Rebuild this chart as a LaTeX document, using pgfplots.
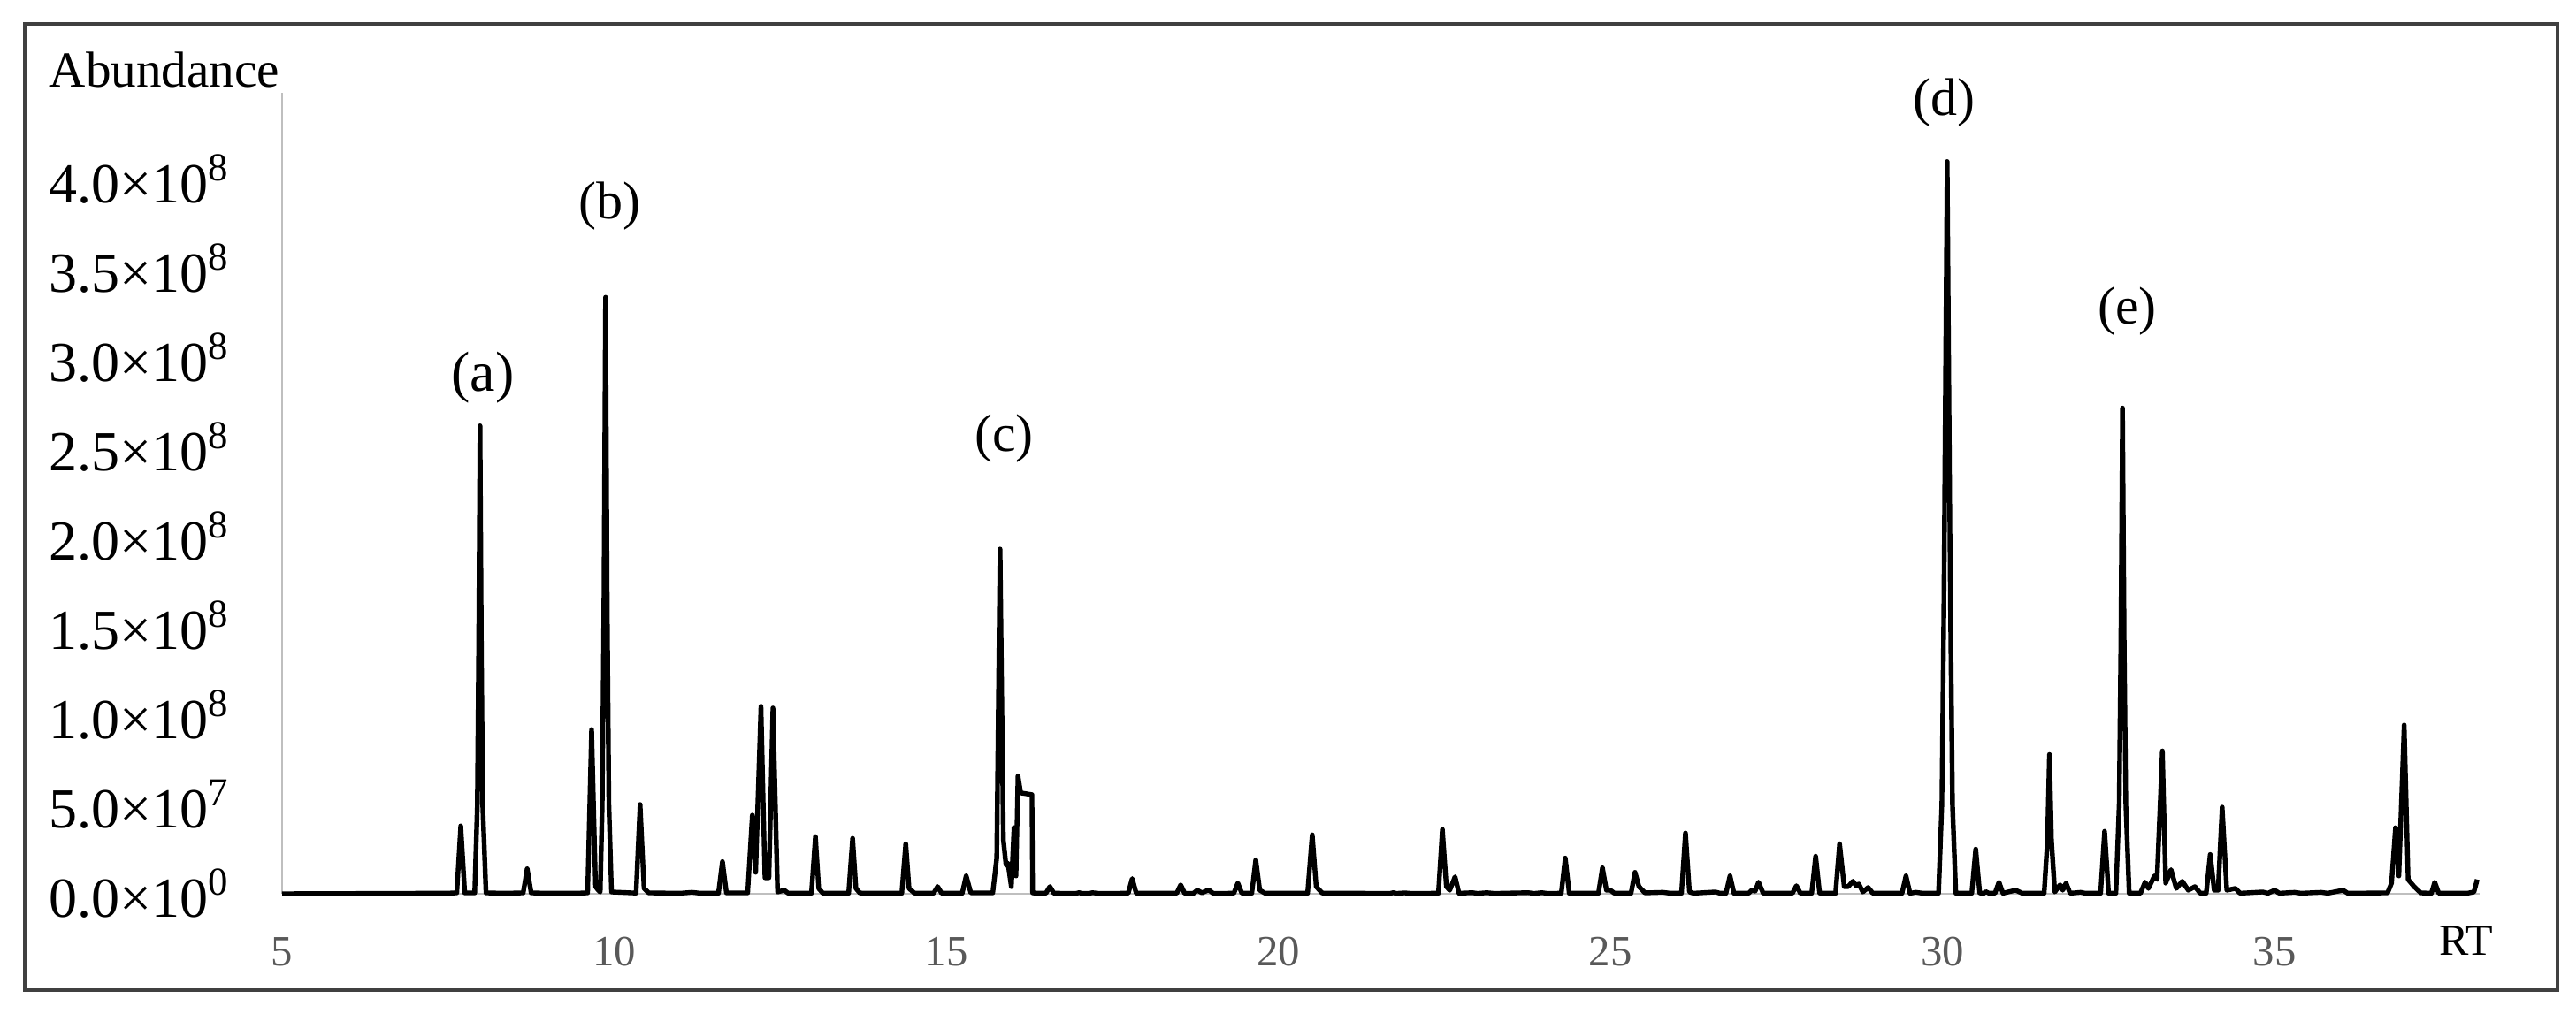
\documentclass[border=0pt]{standalone}
\usepackage{pgfplots}
\pgfplotsset{compat=1.18}
\usepackage{fontspec}
\setmainfont{Liberation Serif}
\definecolor{ticktext}{RGB}{89,89,89}
\definecolor{framegray}{RGB}{64,64,64}
\definecolor{axisgray}{RGB}{191,191,191}

\begin{document}
\begin{tikzpicture}
\path[use as bounding box] (0,0) rectangle (728.25pt,286.5pt);
\begin{axis}[
  at={(79.75pt,33.75pt)}, anchor=south west,
  scale only axis, width=621.5pt, height=226.5pt,
  xmin=5, xmax=38.1, ymin=0, ymax=4.485,
  axis lines=left,
  axis line style={axisgray, line width=0.5pt, -},
  major tick length=0pt,
  xtick={5,10,...,35},
  xticklabels={5,10,15,20,25,30,35},
  ytick={0,0.5,1,1.5,2,2.5,3,3.5,4},
  yticklabels={0.0×10\textsuperscript{0},5.0×10\textsuperscript{7},1.0×10\textsuperscript{8},1.5×10\textsuperscript{8},2.0×10\textsuperscript{8},2.5×10\textsuperscript{8},3.0×10\textsuperscript{8},3.5×10\textsuperscript{8},4.0×10\textsuperscript{8}},
  xticklabel style={anchor=center, yshift=-16.5pt, font=\fontsize{12.2}{14}\selectfont, text=ticktext},
  yticklabel style={anchor=east, inner sep=0pt, xshift=-14.5pt, font=\fontsize{16}{18}\selectfont},
  clip=false,
]
% total ion chromatogram, abundance in units of 1e8
\addplot[black, line width=1.35pt, line join=round, mark=none] coordinates {
(5.00,0) (6.5,0.002) (7.2,0.003) (7.55,0.004)
(7.63,0.005) (7.69,0.38) (7.75,0.005)
(7.90,0.005) (7.94,0.5) (7.96,1.4) (7.98,2.62) (8.00,1.4) (8.02,0.5) (8.07,0.005)
(8.35,0.003) (8.63,0.005) (8.69,0.14) (8.75,0.005)
(9.0,0.003) (9.40,0.003)
(9.60,0.005) (9.66,0.92) (9.72,0.04) (9.76,0.02)
(9.79,0.01) (9.82,0.5) (9.845,1.6) (9.87,3.34) (9.895,1.6) (9.92,0.5) (9.96,0.01)
(10.33,0.004) (10.39,0.50) (10.45,0.03) (10.52,0.005)
(11.0,0.003) (11.17,0.008) (11.3,0.003)
(11.57,0.003) (11.63,0.18) (11.69,0.005)
(12.01,0.005) (12.08,0.44) (12.13,0.12) (12.21,1.05) (12.27,0.09) (12.33,0.09) (12.39,1.04) (12.46,0.01) (12.56,0.02) (12.62,0.003)
(12.97,0.003) (13.03,0.32) (13.08,0.03) (13.14,0.004)
(13.53,0.003) (13.59,0.31) (13.64,0.03) (13.70,0.004)
(14.33,0.003) (14.39,0.28) (14.44,0.03) (14.52,0.004)
(14.81,0.003) (14.87,0.04) (14.93,0.003)
(15.24,0.003) (15.30,0.10) (15.37,0.005)
(15.70,0.005) (15.76,0.2) (15.81,1.93) (15.86,0.3) (15.90,0.16) (15.93,0.17) (15.98,0.04) (16.02,0.37) (16.05,0.10) (16.08,0.66) (16.12,0.565) (16.29,0.555) (16.30,0.005) (16.40,0.003)
(16.50,0.003) (16.56,0.04) (16.62,0.003)
(16.95,0.002) (17.0,0.006) (17.05,0.002) (17.15,0.002) (17.2,0.006) (17.3,0.002)
(17.74,0.003) (17.80,0.085) (17.86,0.003)
(18.47,0.003) (18.53,0.05) (18.59,0.002)
(18.72,0.002) (18.78,0.02) (18.85,0.005) (18.95,0.022) (19.02,0.002)
(19.33,0.003) (19.39,0.06) (19.45,0.003)
(19.60,0.003) (19.66,0.19) (19.72,0.02) (19.80,0.003)
(20.44,0.003) (20.51,0.33) (20.57,0.04) (20.66,0.004)
(21.68,0.002) (21.73,0.006) (21.78,0.002) (21.9,0.005) (22.0,0.002)
(22.41,0.003) (22.47,0.36) (22.53,0.04) (22.58,0.02) (22.66,0.095) (22.72,0.003)
(22.92,0.006) (23.0,0.002) (23.14,0.006) (23.25,0.002) (23.76,0.006) (23.85,0.002) (23.97,0.006) (24.05,0.002)
(24.26,0.003) (24.32,0.2) (24.38,0.003)
(24.82,0.003) (24.88,0.145) (24.94,0.02) (25.0,0.02) (25.06,0.003)
(25.31,0.003) (25.37,0.12) (25.43,0.04) (25.52,0.005)
(25.79,0.008) (25.9,0.003)
(26.07,0.003) (26.13,0.34) (26.19,0.01) (26.25,0.003)
(26.58,0.01) (26.65,0.003)
(26.74,0.003) (26.80,0.10) (26.86,0.003)
(27.08,0.003) (27.13,0.02) (27.18,0.015) (27.23,0.065) (27.30,0.003)
(27.74,0.003) (27.80,0.045) (27.86,0.003)
(28.03,0.003) (28.09,0.21) (28.15,0.004)
(28.39,0.003) (28.45,0.28) (28.52,0.04) (28.58,0.04) (28.65,0.07) (28.70,0.045) (28.74,0.055) (28.80,0.01) (28.88,0.035) (28.95,0.003)
(29.39,0.003) (29.45,0.10) (29.51,0.003)
(29.6,0.008) (29.7,0.003)
(29.94,0.003) (29.99,0.5) (30.02,1.6) (30.07,4.10) (30.12,1.6) (30.15,0.5) (30.20,0.003)
(30.44,0.003) (30.50,0.25) (30.56,0.005)
(30.62,0.002) (30.65,0.012) (30.70,0.003)
(30.79,0.003) (30.85,0.065) (30.91,0.003)
(31.10,0.02) (31.2,0.003)
(31.53,0.003) (31.58,0.3) (31.61,0.78) (31.64,0.3) (31.69,0.01) (31.77,0.05) (31.81,0.02) (31.86,0.06) (31.92,0.003)
(32.08,0.008) (32.15,0.003)
(32.38,0.003) (32.44,0.35) (32.50,0.003)
(32.61,0.003) (32.66,0.5) (32.685,1.4) (32.71,2.72) (32.735,1.4) (32.76,0.5) (32.81,0.003)
(32.98,0.003) (33.05,0.065) (33.10,0.03) (33.19,0.10) (33.23,0.08) (33.31,0.80) (33.36,0.06) (33.44,0.135) (33.52,0.03) (33.61,0.07) (33.70,0.02) (33.80,0.04) (33.88,0.003)
(33.97,0.003) (34.03,0.22) (34.09,0.02) (34.15,0.02) (34.21,0.485) (34.28,0.02) (34.41,0.03) (34.48,0.003)
(34.82,0.01) (34.9,0.003) (35.0,0.02) (35.07,0.003) (35.3,0.008) (35.4,0.003) (35.7,0.008) (35.8,0.003) (36.03,0.02) (36.1,0.003)
(36.70,0.005) (36.76,0.06) (36.82,0.37) (36.87,0.1) (36.95,0.945) (37.01,0.08) (37.10,0.04) (37.2,0.005)
(37.36,0.003) (37.41,0.065) (37.47,0.003)
(37.9,0.003) (38.0,0.01) (38.05,0.08)
};
% peak labels
\node[font=\fontsize{16}{18}\selectfont] at (axis cs:8.02,2.89) {(a)};
\node[font=\fontsize{15}{17}\selectfont] at (axis cs:9.93,3.85) {(b)};
\node[font=\fontsize{15}{17}\selectfont] at (axis cs:15.87,2.55) {(c)};
\node[font=\fontsize{15}{17}\selectfont] at (axis cs:30.03,4.43) {(d)};
\node[font=\fontsize{15}{17}\selectfont] at (axis cs:32.78,3.26) {(e)};
% axis titles
\node[anchor=base east, inner sep=0pt, xshift=-0.5pt, yshift=1.5pt, font=\fontsize{14.3}{17}\selectfont] at (rel axis cs:0,1) {Abundance};
\node[anchor=center, yshift=-13.25pt, font=\fontsize{12.5}{14}\selectfont] at (axis cs:37.88,0) {RT};
\end{axis}
\draw[framegray, line width=0.9pt] (7pt,6.5pt) rectangle (723pt,279.75pt);
\end{tikzpicture}
\end{document}
